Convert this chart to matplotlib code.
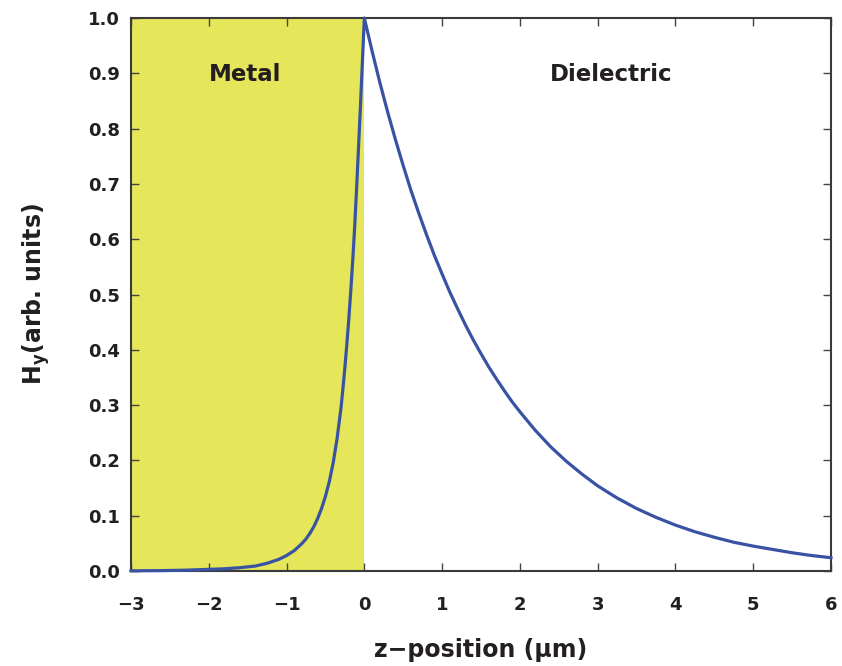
import numpy as np
import matplotlib
matplotlib.use('Agg')
from matplotlib import pyplot as plt

# valores (campo Hy normalizado)
z_metal = [-3.0, -2.6, -2.3, -2.0, -1.8, -1.6, -1.4, -1.25, -1.1, -1.0, -0.9, -0.8,
           -0.75, -0.7, -0.65, -0.6, -0.55, -0.5, -0.45, -0.4, -0.35, -0.3, -0.275,
           -0.25, -0.225, -0.2, -0.175, -0.15, -0.125, -0.1, -0.075, -0.05, -0.025, 0.0]
hy_metal = [0.0003, 0.0007, 0.0015, 0.003, 0.004, 0.006, 0.009, 0.014, 0.021, 0.028, 0.037, 0.050,
            0.058, 0.068, 0.080, 0.095, 0.113, 0.135, 0.162, 0.196, 0.240, 0.295, 0.33,
            0.368, 0.41, 0.455, 0.505, 0.56, 0.62, 0.69, 0.765, 0.84, 0.92, 1.0]

z_diel = [0.0, 0.1, 0.2, 0.3, 0.4, 0.5, 0.6, 0.7, 0.8, 0.9, 1.0, 1.1, 1.2, 1.3, 1.4,
          1.5, 1.6, 1.7, 1.8, 1.9, 2.0, 2.2, 2.4, 2.6, 2.8, 3.0, 3.25, 3.5, 3.75,
          4.0, 4.25, 4.5, 4.75, 5.0, 5.25, 5.5, 5.75, 6.0]
hy_diel = [1.0, 0.94, 0.883, 0.83, 0.78, 0.733, 0.688, 0.647, 0.608, 0.571, 0.537, 0.504,
           0.474, 0.445, 0.418, 0.393, 0.369, 0.347, 0.326, 0.306, 0.288, 0.254, 0.224,
           0.198, 0.175, 0.154, 0.132, 0.113, 0.097, 0.083, 0.071, 0.061, 0.052, 0.045,
           0.039, 0.033, 0.028, 0.024]

x_ticks = [-3, -2, -1, 0, 1, 2, 3, 4, 5, 6]
y_ticks = [0.0, 0.1, 0.2, 0.3, 0.4, 0.5, 0.6, 0.7, 0.8, 0.9, 1.0]

cor_texto = '#231F20'
cor_linha = '#3953A4'
cor_metal = '#E5E65A'

plt.rcParams['font.family'] = ['DejaVu Sans']

fig = plt.figure(figsize=(8.42, 6.66), dpi=100)
ax = fig.add_axes([131 / 842, 1 - 571 / 666, 700 / 842, 553 / 666])

# regiao do metal
ax.axvspan(-3, 0, color=cor_metal, zorder=0, lw=0)

z = z_metal + z_diel[1:]
hy = hy_metal + hy_diel[1:]
ax.plot(z, hy, color=cor_linha, lw=2.3, solid_joinstyle='round', zorder=3, clip_on=False)

ax.set_xlim(-3, 6)
ax.set_ylim(0, 1)
ax.set_xticks(x_ticks)
ax.set_xticklabels(['\u2212%d' % abs(t) if t < 0 else str(t) for t in x_ticks])
ax.set_yticks(y_ticks)
ax.set_yticklabels(['%.1f' % t for t in y_ticks])

ax.tick_params(direction='in', top=True, right=True, length=6, width=1,
               color='#444444', labelsize=13, labelcolor=cor_texto, pad=8)
for lab in ax.get_xticklabels() + ax.get_yticklabels():
    lab.set_fontweight('bold')
ax.tick_params(axis='x', pad=18)
for s in ax.spines.values():
    s.set_linewidth(1.5)
    s.set_color('#3a3a3a')

ax.set_xlabel('z\u2212position (\u03bcm)', fontsize=17, fontweight='bold',
              color=cor_texto, labelpad=17)
ax.set_ylabel(r'$\mathbf{H}_{\mathbf{y}}$(arb. units)', fontsize=17, fontweight='bold',
              color=cor_texto, labelpad=26)

ax.text(-1.53, 0.897, 'Metal', fontsize=16.5, fontweight='bold', color=cor_texto,
        ha='center', va='center')
ax.text(3.18, 0.897, 'Dielectric', fontsize=16.5, fontweight='bold', color=cor_texto,
        ha='center', va='center')

fig.savefig('out.png', dpi=100)
